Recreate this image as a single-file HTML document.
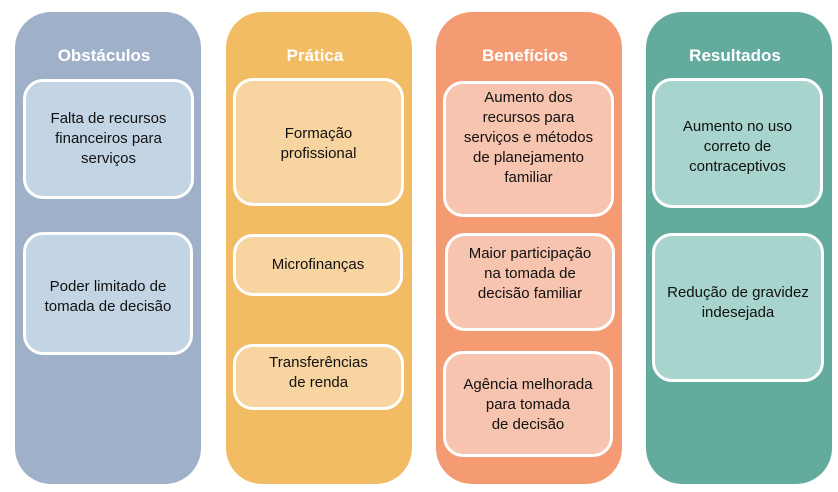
<!DOCTYPE html>
<html><head><style>
body{margin:0;width:838px;height:492px;background:#fff;position:relative;font-family:"Liberation Sans",sans-serif;overflow:hidden}
.col{position:absolute;top:12px;height:472px;width:186px;border-radius:36px}
.t{position:absolute;top:34px;width:100%;text-align:center;color:#fff;font-weight:bold;font-size:17px}
.b{position:absolute;box-sizing:border-box;border:3px solid #fff;border-radius:20px;display:flex;align-items:center;justify-content:center;text-align:center;font-size:15px;line-height:20px;color:#111;padding:0 2px;white-space:nowrap}
</style></head><body>
<div class="col" style="left:15px;background:#9fb1c9"><div class="t" style="left:-4px">Obstáculos</div></div>
<div class="col" style="left:226px;background:#f1bc63"><div class="t" style="left:-4px">Prática</div></div>
<div class="col" style="left:436px;background:#f59b74"><div class="t" style="left:-4px">Benefícios</div></div>
<div class="col" style="left:646px;background:#62ab9d"><div class="t" style="left:-4px">Resultados</div></div>

<div class="b" style="left:23px;top:79px;width:171px;height:120px;background:#c3d5e4">Falta de recursos<br>financeiros para<br>serviços</div>
<div class="b" style="left:23px;top:232px;width:170px;height:123px;background:#c3d5e4;padding-top:6px">Poder limitado de<br>tomada de decisão</div>

<div class="b" style="left:233px;top:78px;width:171px;height:128px;background:#f7d4a0;padding-top:4px">Formação<br>profissional</div>
<div class="b" style="left:233px;top:234px;width:170px;height:62px;background:#f7d4a0">Microfinanças</div>
<div class="b" style="left:233px;top:344px;width:171px;height:66px;background:#f7d4a0;padding-bottom:8px">Transferências<br>de renda</div>

<div class="b" style="left:443px;top:81px;width:171px;height:136px;background:#f7c4af;padding-bottom:22px">Aumento dos<br>recursos para<br>serviços e métodos<br>de planejamento<br>familiar</div>
<div class="b" style="left:445px;top:233px;width:170px;height:98px;background:#f7c4af;padding-bottom:16px">Maior participação<br>na tomada de<br>decisão familiar</div>
<div class="b" style="left:443px;top:351px;width:170px;height:106px;background:#f7c4af;padding-top:2px">Agência melhorada<br>para tomada<br>de decisão</div>

<div class="b" style="left:652px;top:78px;width:171px;height:130px;background:#a7d4cc;padding-top:8px">Aumento no uso<br>correto de<br>contraceptivos</div>
<div class="b" style="left:652px;top:233px;width:172px;height:149px;background:#a7d4cc;padding-bottom:10px">Redução de gravidez<br>indesejada</div>
</body></html>
